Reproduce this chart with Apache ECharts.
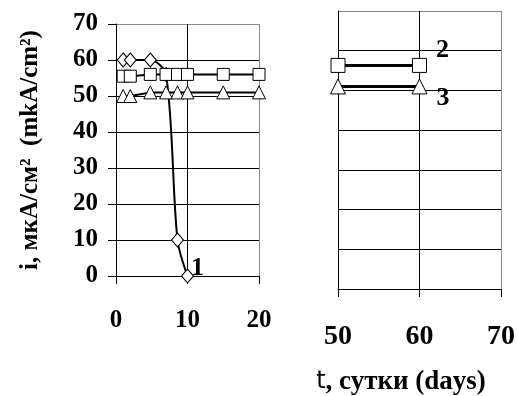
<!DOCTYPE html>
<html>
<head>
<meta charset="utf-8">
<script src="https://cdn.jsdelivr.net/npm/echarts@6/dist/echarts.min.js"></script>
<style>
  html, body { margin: 0; padding: 0; background: #fff; }
  #chart { width: 518px; height: 396px; }
</style>
</head>
<body>
<div id="chart"></div>
<script>
// Current density i (mkA/cm²) versus exposure time t (days)
const daysCurve1 = [1, 2, 4.8, 7, 8.6, 10];
const current1 = [60, 60, 60, 56, 10, 0];

const daysEarly = [1, 2, 4.8, 7, 8.6, 10, 15, 20];
const current2Early = [55.5, 55.5, 56, 56, 56, 56, 56, 56];
const current3Early = [50, 50, 51, 51, 51, 51, 51, 51];

const daysLate = [50, 60];
const current2Late = [56.3, 56.3];
const current3Late = [51, 51];

const xTicksEarly = [0, 10, 20];
const xTicksLate = [50, 60, 70];
const yTicks = [0, 10, 20, 30, 40, 50, 60, 70];

const curveNames = ['1', '2', '3'];

const SERIF = '"Liberation Serif", "Times New Roman", serif';
const black = '#000';
const edgeGrey = '#8a8a8a';

function pairs(xs, ys, labelText, labelOffset) {
  return xs.map((x, i) => {
    const item = { value: [x, ys[i]] };
    if (labelText && i === xs.length - 1) {
      item.label = {
        show: true,
        formatter: labelText,
        position: 'right',
        distance: 0,
        offset: labelOffset,
        fontFamily: SERIF,
        fontWeight: 'bold',
        fontSize: 26,
        color: black
      };
    }
    return item;
  });
}

// split lines: interior black, outer frame grey
function lineColors(count) {
  const c = [];
  for (let i = 0; i < count; i++) c.push(i === count - 1 ? edgeGrey : black);
  return c;
}

const markerStyle = { color: '#fff', borderColor: black, borderWidth: 1 };

const chart = echarts.init(document.getElementById('chart'), null, { renderer: 'canvas' });

chart.setOption({
  animation: false,
  backgroundColor: '#fff',
  grid: [
    { left: 116, top: 24, width: 143, height: 252 },
    { left: 338, top: 11, width: 166, height: 278 }
  ],
  xAxis: [
    {
      type: 'value', gridIndex: 0,
      min: xTicksEarly[0], max: xTicksEarly[xTicksEarly.length - 1], interval: 10,
      axisLine: { lineStyle: { color: black, width: 1 } },
      axisTick: { show: true, length: 8, inside: false, lineStyle: { color: black } },
      axisLabel: { margin: 32, fontFamily: SERIF, fontWeight: 'bold', fontSize: 25, color: black },
      splitLine: { show: true, lineStyle: { color: lineColors(xTicksEarly.length), width: 1 } }
    },
    {
      type: 'value', gridIndex: 1,
      min: xTicksLate[0], max: xTicksLate[xTicksLate.length - 1], interval: 10,
      axisLine: { lineStyle: { color: black, width: 1 } },
      axisTick: { show: true, length: 8, inside: false, lineStyle: { color: black } },
      axisLabel: { margin: 34, fontFamily: SERIF, fontWeight: 'bold', fontSize: 28, color: black },
      splitLine: { show: true, lineStyle: { color: lineColors(xTicksLate.length), width: 1 } }
    }
  ],
  yAxis: [
    {
      type: 'value', gridIndex: 0,
      min: yTicks[0], max: yTicks[yTicks.length - 1], interval: 10,
      axisLine: { show: true, lineStyle: { color: black, width: 1 } },
      axisTick: { show: true, length: 8, inside: false, lineStyle: { color: black } },
      axisLabel: { margin: 18, fontFamily: SERIF, fontWeight: 'bold', fontSize: 25, color: black },
      splitLine: { show: true, lineStyle: { color: lineColors(yTicks.length), width: 1 } }
    },
    {
      type: 'value', gridIndex: 1,
      min: yTicks[0], max: yTicks[yTicks.length - 1], interval: 10,
      axisLine: { show: true, lineStyle: { color: black, width: 1 } },
      axisTick: { show: false },
      axisLabel: { show: false },
      splitLine: { show: true, lineStyle: { color: lineColors(yTicks.length), width: 1 } }
    }
  ],
  series: [
    {
      type: 'line', xAxisIndex: 0, yAxisIndex: 0,
      data: pairs(daysCurve1, current1, curveNames[0], [-3, -8]),
      smooth: 0.3,
      symbol: 'diamond', symbolSize: [12, 14],
      itemStyle: markerStyle,
      lineStyle: { color: black, width: 2 },
      z: 2
    },
    {
      type: 'line', xAxisIndex: 0, yAxisIndex: 0,
      data: pairs(daysEarly, current2Early),
      symbol: 'rect', symbolSize: 12,
      itemStyle: markerStyle,
      lineStyle: { color: black, width: 2 },
      z: 3
    },
    {
      type: 'line', xAxisIndex: 0, yAxisIndex: 0,
      data: pairs(daysEarly, current3Early),
      symbol: 'triangle', symbolSize: [13, 13],
      itemStyle: markerStyle,
      lineStyle: { color: black, width: 2 },
      z: 4
    },
    {
      type: 'line', xAxisIndex: 1, yAxisIndex: 1,
      data: pairs(daysLate, current2Late, curveNames[1], [9, -15]),
      symbol: 'rect', symbolSize: 14,
      itemStyle: markerStyle,
      lineStyle: { color: black, width: 3 },
      z: 3
    },
    {
      type: 'line', xAxisIndex: 1, yAxisIndex: 1,
      data: pairs(daysLate, current3Late, curveNames[2], [9, 12]),
      symbol: 'triangle', symbolSize: [15, 15],
      itemStyle: markerStyle,
      lineStyle: { color: black, width: 3 },
      z: 4
    }
  ],
  graphic: [
    {
      type: 'text',
      x: 31, y: 150,
      rotation: Math.PI / 2,
      style: {
        text: 'i, мкА/см²  (mkA/cm²)',
        fontFamily: SERIF, fontWeight: 'bold', fontSize: 25,
        fill: black, align: 'center', verticalAlign: 'middle'
      }
    },
    {
      type: 'text',
      x: 401, y: 382,
      style: {
        text: '{t|t}{b|, сутки (days)}',
        align: 'center', verticalAlign: 'middle',
        rich: {
          t: { fontFamily: '"DejaVu Sans", sans-serif', fontWeight: 'normal', fontSize: 24, fill: black, color: black },
          b: { fontFamily: SERIF, fontWeight: 'bold', fontSize: 27, fill: black, color: black }
        }
      }
    }
  ]
});
</script>
</body>
</html>
